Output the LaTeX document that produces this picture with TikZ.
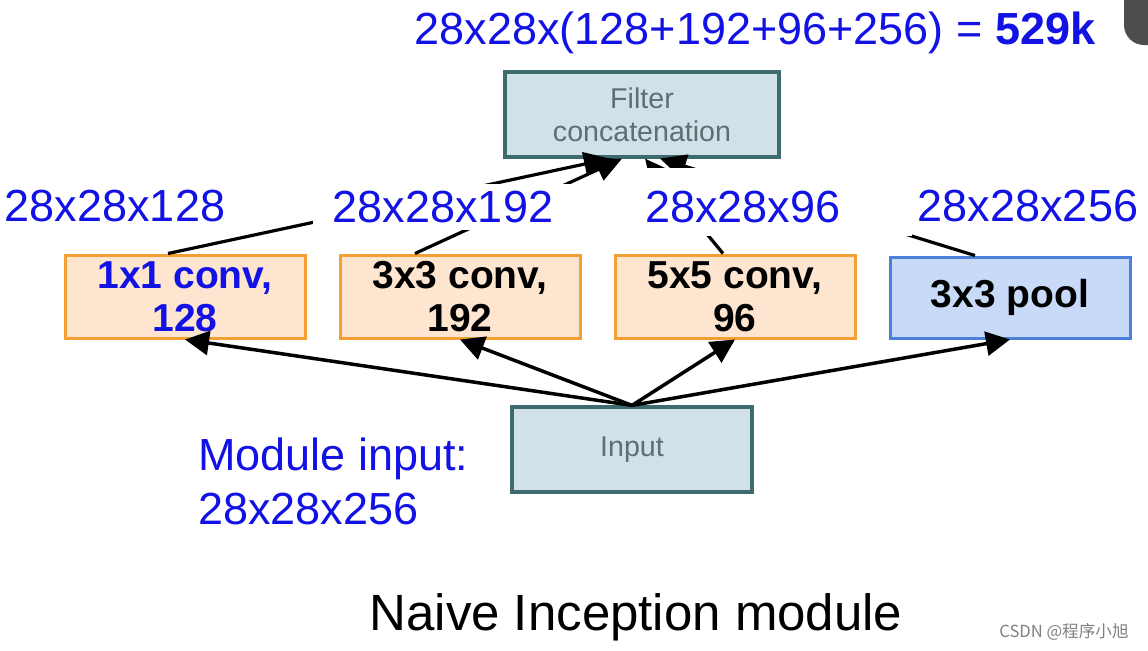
\documentclass[tikz,border=0pt]{standalone}
\usepackage{fontspec}
\setmainfont{Liberation Sans}
\newfontfamily\cjk{Noto Sans CJK SC}
\usetikzlibrary{arrows.meta, positioning}

\definecolor{dimblue}{RGB}{18,18,228}
\definecolor{tealfill}{RGB}{208,226,232}
\definecolor{tealline}{RGB}{62,108,110}
\definecolor{tealtext}{RGB}{92,112,116}
\definecolor{convfill}{RGB}{253,229,208}
\definecolor{convline}{RGB}{242,160,52}
\definecolor{poolfill}{RGB}{201,218,248}
\definecolor{poolline}{RGB}{74,128,216}
\definecolor{cornergray}{RGB}{77,77,77}

\tikzset{
  graybox/.style={draw=tealline, fill=tealfill, line width=1.6pt, minimum width=137pt,
    minimum height=42.5pt, inner sep=0pt, align=center, text=tealtext,
    font=\fontsize{14.3}{16.5}\selectfont},
  convbox/.style={draw=convline, fill=convfill, line width=1.5pt, minimum width=120pt,
    minimum height=41.5pt, inner sep=0pt, align=center,
    font=\bfseries\fontsize{19.5}{21.5}\selectfont},
  poolbox/.style={convbox, draw=poolline, fill=poolfill, minimum height=40.5pt},
  dimlabel/.style={fill=white, inner sep=0pt, text=dimblue, font=\fontsize{22.5}{27}\selectfont},
  flow/.style={line width=1.75pt, -{Triangle[length=12pt, width=12pt]}},
  merge/.style={line width=1.6pt, -{Triangle[length=13pt, width=12pt]}},
}

\begin{document}
\begin{tikzpicture}[x=0.5pt, y=-0.5pt]
\useasboundingbox (0,0) rectangle (1148,650);
\fill[cornergray, rounded corners=10pt] (1124,-30) rectangle (1190,45);

\path (642,114.5) node[graybox] (concat) {Filter\\concatenation};
\path (185,296.5) node[convbox, text=dimblue] (conv1) {1x1 conv,\\128};
\path (460,296.5) node[convbox] (conv3) {3x3 conv,\\192};
\path (735,296.5) node[convbox] (conv5) {5x5 conv,\\96};
\path (1010,297.5) node[poolbox] (pool) {3x3 pool};
\path (632,449.5) node[graybox, minimum width=120pt] (input) {Input};

% branches up to the concatenation
\draw[merge] ([xshift=-8.5pt]conv1.north) -- ([xshift=-16pt]concat.south);
\draw[merge] ([xshift=-22.5pt]conv3.north) -- ([xshift=-10pt]concat.south);
\draw[merge] ([xshift=-6pt]conv5.north) -- ([xshift=1.5pt]concat.south);
\draw[merge] ([xshift=-17.5pt]pool.north) -- ([xshift=9pt]concat.south);

% input to the branches
\draw[flow] (input.north) -- (conv1.south);
\draw[flow] (input.north) -- (conv3.south);
\draw[flow] (input.north) -- (conv5.south);
\draw[flow] (input.north) -- (pool.south);

\path (115,206) node[dimlabel] (size1) {28x28x128};
\path (443,207) node[dimlabel, minimum width=130pt, text height=19pt, text depth=4pt] (size3) {28x28x192};
\path (635,168) node[dimlabel, anchor=north west, text width=128.5pt, align=left,
  inner xsep=5pt, text height=27pt, text depth=7pt] (size5) {28x28x96};
\path (1028,206) node[dimlabel] (sizep) {28x28x256};

\path (755,33) node[dimlabel] (total) {28x28x(128+192+96+256) = \textbf{529k}};
\path (198,481) node[dimlabel, anchor=west, align=left] (modin) {Module input:\\28x28x256};
\path (636,617) node[font=\fontsize{25.5}{30}\selectfont] (title) {Naive Inception module};
\path (1064,632) node[text=gray, font=\cjk\fontsize{8.3}{10}\selectfont] (mark) {CSDN @程序小旭};
\end{tikzpicture}
\end{document}
